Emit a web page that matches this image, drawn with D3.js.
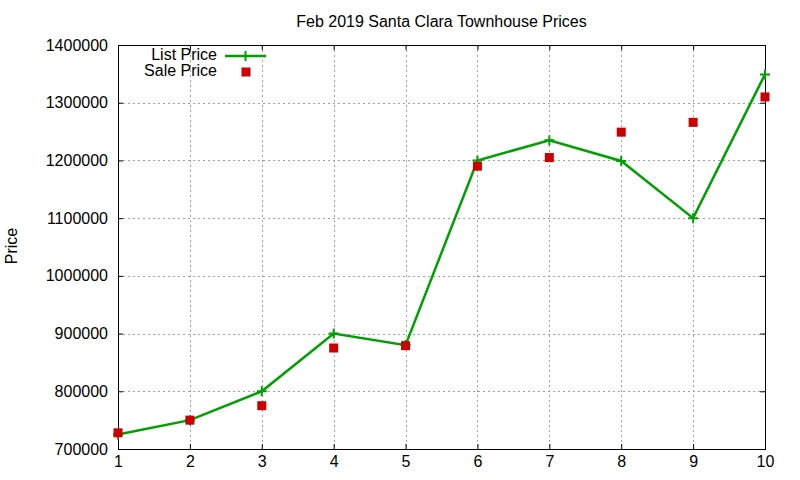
<!DOCTYPE html>
<html>
<head>
<meta charset="utf-8">
<script src="https://cdn.jsdelivr.net/npm/d3@7"></script>
<style>
  body { margin: 0; background: #fff; }
  svg { display: block; font-family: "Liberation Sans", Arial, sans-serif; }
</style>
</head>
<body>
<div id="chart"></div>
<script>
// data
const days = [1, 2, 3, 4, 5, 6, 7, 8, 9, 10];
const listPrice = [725000, 750000, 800000, 900000, 880000, 1200000, 1235000, 1199000, 1100000, 1349000];
const salePrice = [728000, 750000, 775000, 875000, 879000, 1190000, 1205000, 1249000, 1266000, 1310000];
const yTicks = [700000, 800000, 900000, 1000000, 1100000, 1200000, 1300000, 1400000];
const xTicks = [1, 2, 3, 4, 5, 6, 7, 8, 9, 10];

const width = 800;
const height = 480;
const margin = { top: 45, right: 35, bottom: 31, left: 118 };

const svg = d3.select("#chart")
  .append("svg")
  .attr("width", width)
  .attr("height", height);

const x = d3.scaleLinear()
  .domain([1, 10])
  .range([margin.left, width - margin.right]);

const y = d3.scaleLinear()
  .domain([700000, 1400000])
  .range([height - margin.bottom, margin.top]);

const pLeft = margin.left, pRight = width - margin.right;
const pTop = margin.top, pBottom = height - margin.bottom;

// grid
const grid = svg.append("g")
  .attr("stroke", "#a0a0a0")
  .attr("stroke-width", 1)
  .attr("stroke-dasharray", "2,3")
  .attr("shape-rendering", "crispEdges");

grid.selectAll(".gx")
  .data(xTicks.slice(1, -1))
  .join("line")
  .attr("x1", d => Math.round(x(d)) + 0.5)
  .attr("x2", d => Math.round(x(d)) + 0.5)
  .attr("y1", pTop)
  .attr("y2", pBottom);

grid.selectAll(".gy")
  .data(yTicks.slice(1, -1))
  .join("line")
  .attr("x1", pLeft)
  .attr("x2", pRight)
  .attr("y1", d => Math.round(y(d)) + 0.5)
  .attr("y2", d => Math.round(y(d)) + 0.5);

// axes with inward ticks
function yAxis(g) {
  g.attr("transform", "translate(" + pLeft + ",0)")
    .call(d3.axisLeft(y).tickValues(yTicks).tickSizeInner(-5).tickSizeOuter(0).tickPadding(10)
      .tickFormat(d3.format("d")));
  g.select(".domain").remove();
  g.selectAll("text").attr("font-size", 16).attr("fill", "#000")
    .attr("font-family", "Liberation Sans, Arial, sans-serif");
}

function yAxisRight(g) {
  g.attr("transform", "translate(" + pRight + ",0)")
    .call(d3.axisRight(y).tickValues(yTicks).tickSizeInner(-5).tickSizeOuter(0).tickFormat(""));
  g.select(".domain").remove();
}

function xAxis(g) {
  g.attr("transform", "translate(0," + pBottom + ")")
    .call(d3.axisBottom(x).tickValues(xTicks).tickSizeInner(-5).tickSizeOuter(0).tickPadding(7)
      .tickFormat(d3.format("d")));
  g.select(".domain").remove();
  g.selectAll("text").attr("font-size", 16).attr("fill", "#000")
    .attr("font-family", "Liberation Sans, Arial, sans-serif");
}

function xAxisTop(g) {
  g.attr("transform", "translate(0," + pTop + ")")
    .call(d3.axisTop(x).tickValues(xTicks).tickSizeInner(-5).tickSizeOuter(0).tickFormat(""));
  g.select(".domain").remove();
}

svg.append("g").call(yAxis);
svg.append("g").call(yAxisRight);
svg.append("g").call(xAxis);
svg.append("g").call(xAxisTop);

// border
svg.append("rect")
  .attr("x", pLeft + 0.5)
  .attr("y", pTop + 0.5)
  .attr("width", pRight - pLeft)
  .attr("height", pBottom - pTop)
  .attr("fill", "none")
  .attr("stroke", "#000")
  .attr("stroke-width", 1)
  .attr("shape-rendering", "crispEdges");

// list price line
const listColor = "#00a000";
const saleColor = "#cc0000";

const line = d3.line()
  .x((d, i) => x(days[i]))
  .y(d => y(d));

svg.append("path")
  .datum(listPrice)
  .attr("d", line)
  .attr("fill", "none")
  .attr("stroke", listColor)
  .attr("stroke-width", 2.5);

function plus(cx, cy, r) {
  return "M" + (cx - r) + "," + cy + "H" + (cx + r) + "M" + cx + "," + (cy - r) + "V" + (cy + r);
}

svg.append("g")
  .selectAll("path")
  .data(listPrice)
  .join("path")
  .attr("d", (d, i) => plus(x(days[i]), y(d), 5))
  .attr("stroke", listColor)
  .attr("stroke-width", 2);

// sale price squares
svg.append("g")
  .selectAll("rect")
  .data(salePrice)
  .join("rect")
  .attr("x", (d, i) => x(days[i]) - 4.5)
  .attr("y", d => y(d) - 4.5)
  .attr("width", 9)
  .attr("height", 9)
  .attr("fill", saleColor);

// title
svg.append("text")
  .attr("x", (pLeft + pRight) / 2)
  .attr("y", 27)
  .attr("text-anchor", "middle")
  .attr("font-size", 16)
  .text("Feb 2019 Santa Clara Townhouse Prices");

// y label
svg.append("text")
  .attr("transform", "translate(17,246) rotate(-90)")
  .attr("text-anchor", "middle")
  .attr("font-size", 16)
  .text("Price");

// legend
const legend = svg.append("g");
legend.append("text")
  .attr("x", 217).attr("y", 60)
  .attr("text-anchor", "end")
  .attr("font-size", 16)
  .text("List Price");
legend.append("line")
  .attr("x1", 225).attr("x2", 266)
  .attr("y1", 56).attr("y2", 56)
  .attr("stroke", listColor)
  .attr("stroke-width", 2.5);
legend.append("path")
  .attr("d", plus(245.5, 56, 5))
  .attr("stroke", listColor)
  .attr("stroke-width", 2);
legend.append("text")
  .attr("x", 217).attr("y", 76)
  .attr("text-anchor", "end")
  .attr("font-size", 16)
  .text("Sale Price");
legend.append("rect")
  .attr("x", 241.5).attr("y", 67.5)
  .attr("width", 9).attr("height", 9)
  .attr("fill", saleColor);
</script>
</body>
</html>
